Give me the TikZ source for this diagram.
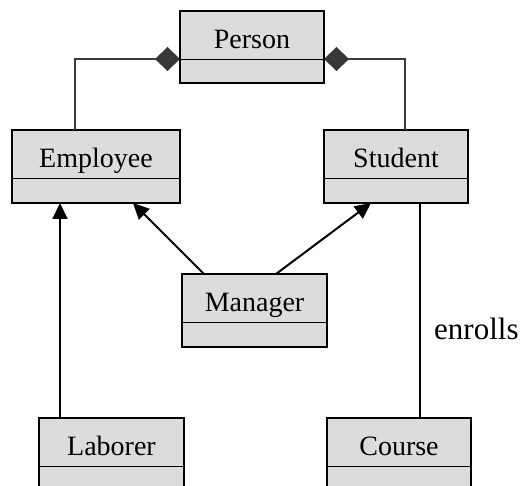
\documentclass[tikz,border=0pt]{standalone}
\usepackage{fontspec}
\setmainfont{Liberation Serif}
\usetikzlibrary{arrows.meta,calc}
\definecolor{boxgray}{HTML}{DCDCDC}
\definecolor{compgray}{HTML}{3A3A3A}
\definecolor{diamondgray}{HTML}{383838}
\newcommand{\umlclass}[6]{%
  \node[classbox, anchor=north west, minimum width=#4pt, minimum height=#5pt] (#1) at (#2,#3) {};
  \draw[divider] ($(#1.north west)+(0,48.5)$) -- ($(#1.north east)+(0,48.5)$);
  \node[cname] (#1-name) at ($(#1.north)+(0,37.5)$) {#6};}
\begin{document}
\begin{tikzpicture}[x=1pt,y=-1pt,
  classbox/.style={draw=black, line width=2pt, fill=boxgray, inner sep=0pt, outer sep=0pt},
  divider/.style={draw=black, line width=1.8pt},
  cname/.style={font=\fontsize{28}{30}\selectfont, anchor=base, inner sep=0pt},
  gen/.style={draw=black, line width=2pt, -{Triangle[length=16pt,width=15pt]}},
  assoc/.style={draw=black, line width=2pt},
  comp/.style={draw=compgray, line width=1.5pt, {Diamond[length=25pt,width=24pt,fill=diamondgray,color=diamondgray]}-}
]
\useasboundingbox (0,0) rectangle (522,486);
\clip (0,0) rectangle (522,486);
\umlclass{person}{180}{11}{144}{72}{Person}
\umlclass{employee}{12}{130}{168}{73}{Employee}
\umlclass{student}{324}{130}{144}{73}{Student}
\umlclass{manager}{182}{274}{145}{73}{Manager}
\umlclass{laborer}{39}{418}{145}{73}{Laborer}
\umlclass{course}{327}{418}{144}{73}{Course}
% composition
\draw[comp] ($(person.west)+(0,12)$) -| ($(employee.north west)+(63,0)$);
\draw[comp] ($(person.east)+(0,12)$) -| ($(student.north west)+(81,0)$);
% generalisation
\draw[gen] ($(laborer.north west)+(21,0)$) -- ($(employee.south west)+(48,0)$);
\draw[gen] ($(manager.north west)+(22,0)$) -- ($(employee.south west)+(121,0)$);
\draw[gen] ($(manager.north west)+(94,0)$) -- ($(student.south west)+(47,0)$);
% association
\draw[assoc] ($(student.south west)+(96,0)$) -- ($(course.north west)+(93,0)$);
\node[font=\fontsize{31}{33}\selectfont, anchor=base west, inner sep=0pt] (enrolls) at (434,339) {enrolls};
\end{tikzpicture}
\end{document}
